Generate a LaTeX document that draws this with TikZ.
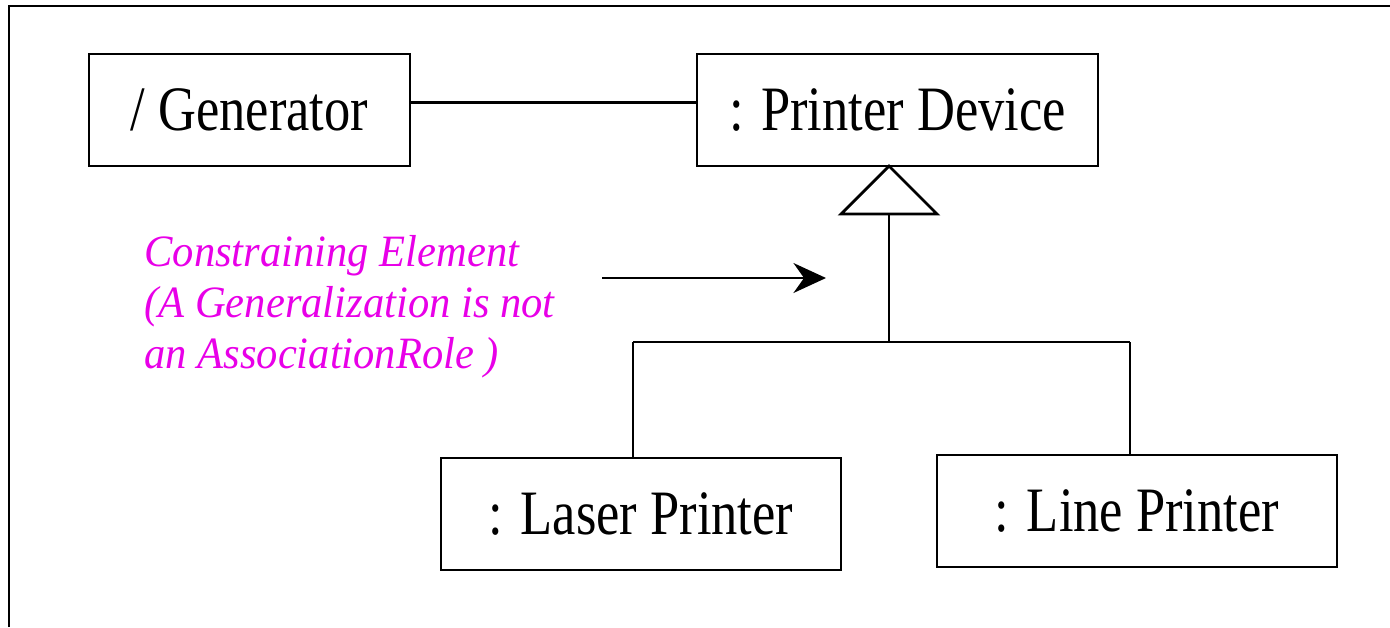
\documentclass[tikz,border=0pt]{standalone}
\usepackage{fontspec}
\setmainfont{Liberation Serif}
\newfontfamily\boxfont[FakeStretch=0.83]{Liberation Serif}
\newfontfamily\notefont[FakeStretch=0.95]{Liberation Serif}
\usetikzlibrary{arrows.meta}
\definecolor{notemagenta}{RGB}{232,0,232}

\begin{document}
\begin{tikzpicture}[x=0.02cm, y=-0.02cm, line width=1.6pt,
    obj/.style={draw, minimum height=2.24cm, inner sep=0pt,
      font=\boxfont\fontsize{36}{40}\selectfont},
    note/.style={anchor=north west, align=left, inner sep=0pt,
      text=notemagenta, font=\notefont\itshape\fontsize{25.5}{29}\selectfont}]
  \useasboundingbox (0,0) rectangle (1390,627);
  % outer frame, cut off at the right and at the bottom
  \draw (9,627) -- (9,6) -- (1390,6);
  % objects
  \node[obj, minimum width=6.42cm] (gen) at (249.5,110) {/ Generator};
  \node[obj, minimum width=8.02cm] (dev) at (897.5,110) {: Printer Device};
  \node[obj, minimum width=8cm] (laser) at (641,514) {: Laser Printer};
  \node[obj, minimum width=8cm] (line) at (1137,511) {: Line Printer};
  % association
  \draw ([yshift=4.5pt]gen.east) -- ([yshift=4.5pt]dev.west);
  % generalization tree
  \coordinate (apex) at (889,166);
  \coordinate (base) at (889,214);
  \coordinate (fork) at (889,342);
  \coordinate (lj) at (633,342);
  \coordinate (rj) at (1130,342);
  \draw (apex) -- ++(-48,48) -- ++(96,0) -- cycle;
  \draw (base) -- (fork);
  \draw (lj) -- (rj);
  \draw (lj) -- (lj |- laser.north);
  \draw (rj) -- (rj |- line.north);
  % constraint note
  \node[note] (txt) at (143,234) {Constraining Element\\(A Generalization is not\\an AssociationRole )};
  \coordinate (tail) at (602,278);
  \coordinate (tip) at (826,278);
  \draw[-{Stealth[length=18.5pt, width=17pt, inset=6pt]}] (tail) -- (tip);
\end{tikzpicture}
\end{document}
